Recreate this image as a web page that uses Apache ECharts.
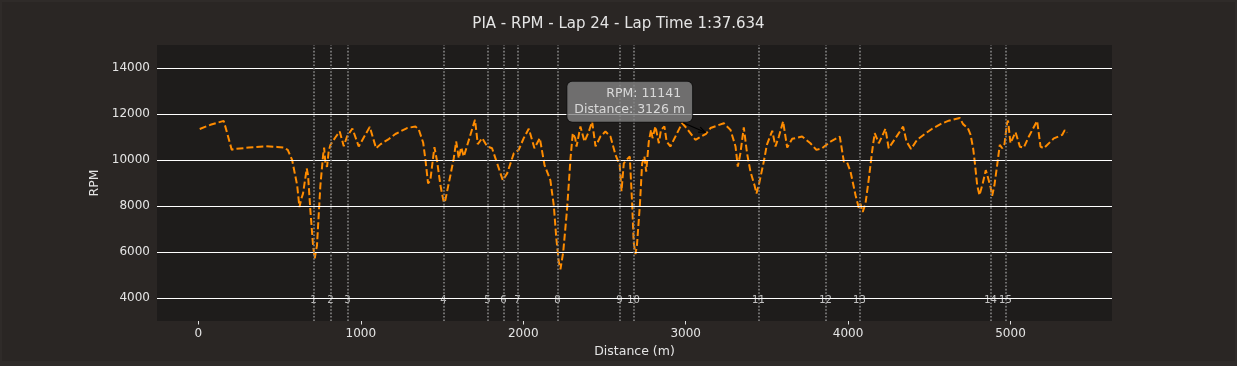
<!DOCTYPE html>
<html>
<head>
<meta charset="utf-8">
<script src="https://cdn.jsdelivr.net/npm/echarts@6/dist/echarts.min.js"></script>
<style>
html,body{margin:0;padding:0;background:#2f2b29;}
#chart{width:1237px;height:366px;}
</style>
</head>
<body>
<div id="chart"></div>
<script>
const titleText = 'PIA - RPM - Lap 24 - Lap Time 1:37.634';
const distance = [8,74,156,168,205,228,310,413,484,525,550,577,608,622,634,644,667,675,690,706,716,730,751,768,774,782,792,802,813,844,870,895,915,948,987,1055,1094,1122,1172,1213,1285,1336,1357,1384,1398,1414,1428,1453,1470,1490,1511,1520,1552,1572,1587,1603,1618,1634,1703,1720,1747,1778,1808,1829,1874,1901,1942,1972,2003,2034,2069,2102,2131,2167,2188,2204,2219,2229,2246,2270,2291,2305,2320,2328,2352,2377,2404,2424,2445,2475,2506,2537,2568,2594,2605,2619,2635,2656,2671,2680,2691,2700,2718,2732,2746,2757,2773,2787,2796,2814,2835,2848,2869,2883,2906,2937,2978,3005,3060,3126,3153,3235,3276,3307,3321,3337,3358,3378,3399,3424,3436,3450,3481,3500,3533,3553,3574,3600,3625,3656,3717,3768,3805,3840,3892,3949,3974,3994,4015,4046,4066,4076,4090,4107,4128,4148,4164,4189,4209,4230,4250,4292,4339,4360,4388,4425,4466,4518,4569,4620,4688,4708,4737,4754,4770,4781,4795,4809,4829,4848,4860,4877,4887,4901,4918,4934,4949,4963,4979,4985,5000,5031,5058,5082,5113,5164,5185,5205,5267,5318,5334,5349];
const rpm = [11350,11530,11700,11730,10450,10480,10540,10600,10570,10540,10440,10000,8900,7950,8320,8540,9630,9340,7740,6280,5720,6280,8900,10220,10540,9850,9700,10370,10660,10990,11240,10600,11020,11370,10590,11440,10510,10690,10910,11130,11390,11460,11320,10750,10000,8980,9120,10560,9930,8900,8150,8250,9350,10070,10810,10080,10550,10150,11750,10690,10950,10590,10510,10070,9120,9420,10290,10440,10950,11360,10510,10950,9780,9120,8030,6570,5550,5250,5990,7880,10070,11170,10950,10580,11460,10800,11240,11680,10590,11020,11240,11020,10220,9780,8640,9850,10000,10150,8030,6420,5910,6280,8030,9850,10150,9490,10800,11310,10950,11460,10730,11310,11460,10800,10590,11020,11600,11390,10880,11141,11390,11600,11310,10590,9710,10290,11420,10290,9490,8900,8540,8900,9930,10660,11270,10590,11020,11680,10540,10920,11020,10730,10440,10510,10800,11020,9930,9900,9490,8470,7910,8100,7740,8100,9200,10370,11170,10730,11020,11360,10510,10950,11450,10800,10480,10880,11100,11360,11560,11710,11830,11560,11390,11100,10510,9850,8900,8470,8980,9560,9270,8830,8440,8900,9780,10660,10510,10690,11610,11710,10730,11210,10580,10540,11020,11700,10580,10510,10940,11090,11300,11190];
const xTicks = [0,1000,2000,3000,4000,5000];
const yTicks = [4000,6000,8000,10000,12000,14000];
const cornerDist = [708,813,917,1509,1780,1878,1964,2211,2592,2679,3448,3861,4070,4877,4969];
const cornerNames = ['1','2','3','4','5','6','7','8','9','10','11','12','13','14','15'];
const cornerLabelRpm = 4000;
const annotDist = 3126;
const annotRpm = 11141;

const FONT = 'DejaVu Sans';
const TXT = '#e4e4e4';

const chart = echarts.init(document.getElementById('chart'), null, {renderer:'canvas'});
const bgRect = {type: 'rect', z: -10, silent: true, shape: {x: 2, y: 2, width: 1233, height: 359}, style: {fill: '#2a2624'}};
const option = {
  backgroundColor: '#2f2b29',
  animation: false,
  title: {
    text: titleText, left: 'center', top: 12,
    textStyle: {color: TXT, fontFamily: FONT, fontSize: 15, fontWeight: 'normal'}
  },
  grid: {left: 157, right: 125, top: 45, bottom: 45, show: true, backgroundColor: '#1e1c1b', borderWidth: 0},
  xAxis: {
    type: 'value', min: -255, max: 5625,
    name: 'Distance (m)', nameLocation: 'middle', nameGap: 18,
    nameTextStyle: {color: TXT, fontFamily: FONT, fontSize: 12.5},
    axisLine: {show: false},
    axisTick: {show: true, length: 3.5, customValues: xTicks, lineStyle: {color: '#dddddd', width: 1}},
    axisLabel: {customValues: xTicks, formatter: v => String(v), color: TXT, fontFamily: FONT, fontSize: 12, margin: 7},
    splitLine: {show: false}
  },
  yAxis: {
    type: 'value', min: 3000, max: 15000,
    name: 'RPM', nameLocation: 'middle', nameGap: 46,
    nameTextStyle: {color: TXT, fontFamily: FONT, fontSize: 12.5},
    axisLine: {show: false},
    axisTick: {show: true, length: 3.5, customValues: yTicks, lineStyle: {color: '#dddddd', width: 1}},
    axisLabel: {customValues: yTicks, formatter: v => String(v), color: TXT, fontFamily: FONT, fontSize: 12, margin: 7},
    splitLine: {show: false}
  },
  graphic: [bgRect],
  series: [
    {
      type: 'line', data: [], z: 1, silent: true,
      markLine: {
        silent: true, symbol: ['none','none'], animation: false,
        label: {show: false},
        lineStyle: {color: '#ffffff', width: 1.2, type: 'solid'},
        data: yTicks.map(v => ({yAxis: v}))
      }
    },
    {
      type: 'line', data: [], z: 2, silent: true,
      markLine: {
        silent: true, symbol: ['none','none'], animation: false,
        label: {show: false},
        lineStyle: {color: '#858585', width: 1.6, type: [1.6, 1.8]},
        data: cornerDist.map(d => ({xAxis: d}))
      }
    },
    {
      type: 'scatter', z: 3, silent: true, symbolSize: 0,
      data: cornerDist.map((d, i) => [d, cornerLabelRpm, cornerNames[i]]),
      label: {
        show: true, position: 'inside', offset: [0, 2.5],
        formatter: p => p.data[2],
        color: '#eeeeee', fontFamily: FONT, fontSize: 10
      }
    },
    {
      type: 'line', z: 4, silent: true,
      data: distance.map((d, i) => [d, rpm[i]]),
      showSymbol: false, symbol: 'none',
      lineStyle: {color: '#ff8c00', width: 2, type: [7, 3]}
    },
    {
      type: 'scatter', z: 6, silent: true, symbolSize: 0,
      data: [[annotDist, annotRpm]],
      label: {
        show: true, position: [-14, -32], align: 'right', verticalAlign: 'middle',
        formatter: 'RPM: ' + annotRpm + ' \nDistance: ' + annotDist + ' m',
        color: '#f2f2f2', fontFamily: FONT, fontSize: 12.5, lineHeight: 15.5,
        backgroundColor: '#838383', borderColor: '#111111', borderWidth: 1, borderRadius: 5,
        padding: [5, 7, 4, 7]
      }
    }
  ]
};
chart.setOption(option);

const pt = chart.convertToPixel({gridIndex: 0}, [annotDist, annotRpm]);
const tip = [pt[0] - 1, pt[1] - 1.5];
const start = [pt[0] - 23, pt[1] - 11];
const ang = Math.atan2(tip[1] - start[1], tip[0] - start[0]);
const hl = 7, ha = 0.4;
chart.setOption({
  graphic: [
    bgRect,
    {type: 'line', z: 100, silent: true, shape: {x1: start[0], y1: start[1], x2: tip[0], y2: tip[1]}, style: {stroke: '#000', lineWidth: 1.2}},
    {type: 'polyline', z: 100, silent: true, shape: {points: [
      [tip[0] - hl * Math.cos(ang - ha), tip[1] - hl * Math.sin(ang - ha)], tip,
      [tip[0] - hl * Math.cos(ang + ha), tip[1] - hl * Math.sin(ang + ha)]
    ]}, style: {stroke: '#000', lineWidth: 1.2, fill: null}}
  ]
});
</script>
</body>
</html>
